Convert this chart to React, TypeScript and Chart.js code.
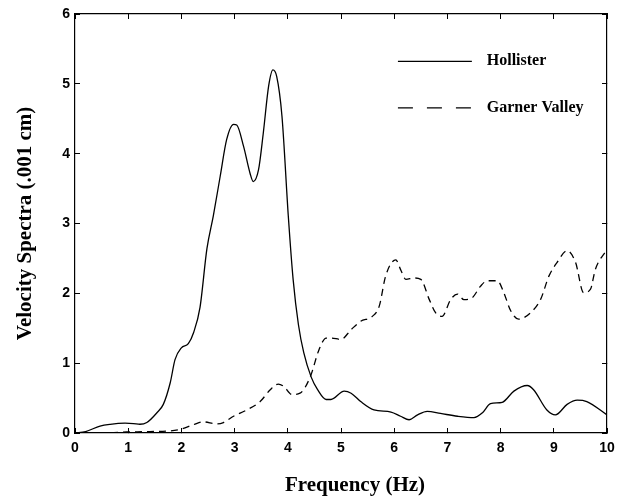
import React, { useEffect, useRef } from "react";
import { Chart, registerables } from "chart.js";

Chart.register(...registerables);

// Hollister (solid)
const hollisterFreq = [0, 0.2, 0.47, 0.66, 0.94, 1.1, 1.22, 1.35, 1.54, 1.66, 1.79, 1.88, 2.0, 2.13, 2.23, 2.35, 2.48, 2.6, 2.73, 2.85, 2.98, 3.04, 3.17, 3.29, 3.35, 3.45, 3.54, 3.64, 3.72, 3.79, 3.89, 4.01, 4.1, 4.2, 4.3, 4.44, 4.56, 4.72, 4.81, 5.06, 5.19, 5.37, 5.62, 5.94, 6.12, 6.28, 6.44, 6.62, 6.87, 7.19, 7.5, 7.66, 7.81, 8.03, 8.25, 8.5, 8.62, 8.87, 9.03, 9.25, 9.44, 9.62, 10.0];
const hollisterValues = [0, 0.02, 0.1, 0.125, 0.14, 0.135, 0.125, 0.15, 0.29, 0.41, 0.72, 1.05, 1.22, 1.28, 1.44, 1.8, 2.64, 3.11, 3.68, 4.2, 4.42, 4.41, 4.1, 3.72, 3.6, 3.77, 4.3, 4.97, 5.2, 5.11, 4.54, 3.1, 2.2, 1.55, 1.15, 0.8, 0.62, 0.48, 0.48, 0.6, 0.57, 0.45, 0.33, 0.3, 0.24, 0.19, 0.26, 0.31, 0.28, 0.24, 0.22, 0.29, 0.42, 0.44, 0.6, 0.68, 0.62, 0.33, 0.26, 0.41, 0.47, 0.45, 0.26];

// Garner Valley (dashed)
const garnerFreq = [0, 0.6, 0.97, 1.41, 1.97, 2.23, 2.41, 2.66, 2.79, 2.98, 3.23, 3.48, 3.67, 3.82, 3.92, 4.08, 4.23, 4.42, 4.59, 4.72, 4.81, 5.0, 5.19, 5.37, 5.59, 5.72, 5.84, 6.03, 6.12, 6.22, 6.37, 6.5, 6.66, 6.78, 6.9, 7.06, 7.19, 7.31, 7.47, 7.62, 7.75, 7.94, 8.06, 8.19, 8.34, 8.56, 8.75, 8.91, 9.06, 9.25, 9.41, 9.56, 9.69, 9.78, 10.0];
const garnerValues = [0, 0.0, 0.015, 0.02, 0.05, 0.12, 0.16, 0.13, 0.15, 0.24, 0.33, 0.45, 0.62, 0.7, 0.67, 0.55, 0.57, 0.8, 1.2, 1.36, 1.36, 1.34, 1.48, 1.6, 1.67, 1.82, 2.25, 2.48, 2.34, 2.2, 2.22, 2.2, 1.91, 1.72, 1.67, 1.91, 1.99, 1.91, 1.94, 2.1, 2.18, 2.18, 2.01, 1.75, 1.63, 1.72, 1.91, 2.25, 2.44, 2.61, 2.44, 2.01, 2.06, 2.34, 2.63];

const seriesNames = ["Hollister", "Garner Valley"];
const xTitle = "Frequency (Hz)";
const yTitle = "Velocity Spectra (.001 cm)";
const xMin = 0, xMax = 10, yMin = 0, yMax = 6;

const tickFont = { family: "'Liberation Sans', Arial, sans-serif", size: 14, weight: "bold" };
const serifBold = "'Liberation Serif', 'Times New Roman', serif";

const annotationPlugin = {
  id: "annotations",
  afterDraw(chart: any) {
    const { ctx, chartArea } = chart;
    const w = chartArea.right - chartArea.left;
    const h = chartArea.bottom - chartArea.top;
    ctx.save();
    // legend
    const lx0 = chartArea.left + w * 0.607;
    const lx1 = chartArea.left + w * 0.746;
    const tx = chartArea.left + w * 0.774;
    const rows = [chartArea.top + h * 0.113, chartArea.top + h * 0.224];
    chart.data.datasets.forEach((ds: any, i: number) => {
      const y = rows[i];
      ctx.beginPath();
      ctx.setLineDash(i === 0 ? [] : [15, 14]);
      ctx.strokeStyle = "#000";
      ctx.lineWidth = 1.4;
      ctx.moveTo(lx0, y);
      ctx.lineTo(lx1, y);
      ctx.stroke();
      ctx.setLineDash([]);
      ctx.fillStyle = "#000";
      ctx.font = `bold 16px ${serifBold}`;
      ctx.textAlign = "left";
      ctx.textBaseline = "middle";
      ctx.fillText(ds.label, tx, y);
    });
    // x title
    ctx.font = `bold 21px ${serifBold}`;
    ctx.textAlign = "center";
    ctx.textBaseline = "middle";
    ctx.fillStyle = "#000";
    ctx.fillText(xTitle, (chartArea.left + chartArea.right) / 2 + 14, chart.height - 13);
    ctx.restore();
  },
};

export default function App() {
  const ref = useRef<HTMLCanvasElement | null>(null);
  useEffect(() => {
    document.body.style.margin = "0";
    const canvas = ref.current!;
    const gridCommon = {
      drawOnChartArea: false,
      drawTicks: true,
      tickLength: -5,
      color: "#000",
      lineWidth: 1,
    };
    const border = { display: true, color: "#000", width: 1.2 };
    const noPad = (s: any) => {
      s.paddingTop = 0;
      s.paddingBottom = 0;
      s.paddingLeft = 0;
      s.paddingRight = 0;
    };
    const chart = new Chart(canvas, {
      type: "line",
      data: {
        datasets: [
          {
            label: seriesNames[0],
            data: hollisterFreq.map((x, i) => ({ x, y: hollisterValues[i] })),
            borderColor: "#000",
            borderWidth: 1.3,
            pointRadius: 0,
            cubicInterpolationMode: "monotone",
            fill: false,
          },
          {
            label: seriesNames[1],
            data: garnerFreq.map((x, i) => ({ x, y: garnerValues[i] })),
            borderColor: "#000",
            borderWidth: 1.3,
            borderDash: [7, 5],
            pointRadius: 0,
            cubicInterpolationMode: "monotone",
            fill: false,
          },
        ],
      },
      options: {
        responsive: false,
        animation: false,
        devicePixelRatio: 1,
        layout: { padding: 0 },
        plugins: { legend: { display: false }, tooltip: { enabled: false } },
        scales: {
          x: {
            type: "linear",
            position: "bottom",
            min: xMin,
            max: xMax,
            ticks: { stepSize: 1, font: tickFont, color: "#000", padding: 12, maxRotation: 0 },
            grid: gridCommon,
            border,
            afterFit: (s: any) => { s.height = 66; noPad(s); },
          },
          x2: {
            type: "linear",
            position: "top",
            min: xMin,
            max: xMax,
            ticks: { stepSize: 1, display: false },
            grid: gridCommon,
            border,
            afterFit: (s: any) => { s.height = 14; noPad(s); },
          },
          y: {
            type: "linear",
            position: "left",
            min: yMin,
            max: yMax,
            ticks: { stepSize: 1, font: tickFont, color: "#000", padding: 10 },
            grid: gridCommon,
            border,
            title: {
              display: true,
              text: yTitle,
              color: "#000",
              font: { family: serifBold, size: 21, weight: "bold" },
              padding: { top: 13, bottom: 0 },
            },
            afterFit: (s: any) => { s.width = 75; noPad(s); },
          },
          y2: {
            type: "linear",
            position: "right",
            min: yMin,
            max: yMax,
            ticks: { stepSize: 1, display: false },
            grid: gridCommon,
            border,
            afterFit: (s: any) => { s.width = 16; noPad(s); },
          },
        },
      } as any,
      plugins: [annotationPlugin],
    });
    return () => chart.destroy();
  }, []);
  return (
    <div style={{ position: "fixed", left: 0, top: 0, width: 623, height: 499, background: "#fff" }}>
      <canvas ref={ref} width={623} height={499} style={{ width: 623, height: 499, display: "block" }} />
    </div>
  );
}
